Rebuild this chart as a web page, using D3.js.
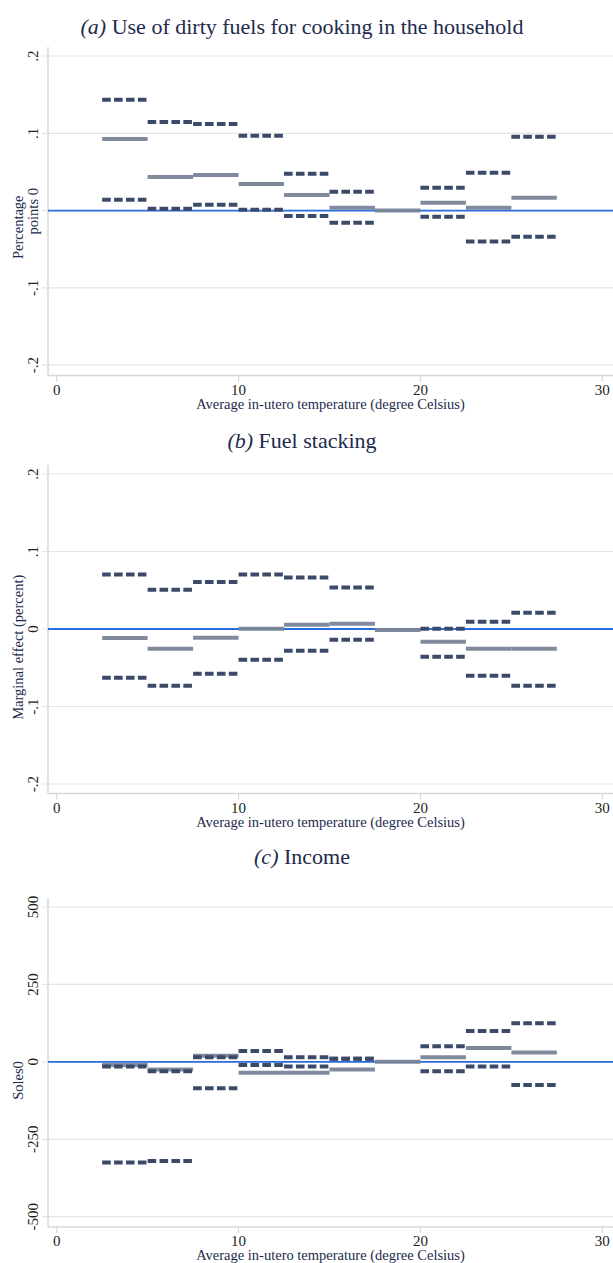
<!DOCTYPE html>
<html><head><meta charset="utf-8">
<script src="https://cdn.jsdelivr.net/npm/d3@7"></script>
<style>body{margin:0;background:#fff} svg{display:block}</style>
</head><body><svg id="c" width="613" height="1263"></svg>
<script>
// ---- data ----
const binStarts = [2.5, 5, 7.5, 10, 12.5, 15, 17.5, 20, 22.5, 25];
const binWidth = 2.5;
const xTicks = [0, 10, 20, 30];

const dirtyEst = [0.0925, 0.0434, 0.046, 0.0344, 0.0202, 0.0038, 0, 0.0102, 0.0038, 0.0167];
const dirtyHi  = [0.1435, 0.1145, 0.112, 0.0968, 0.0477, 0.0244, null, 0.0296, 0.049, 0.0955];
const dirtyLo  = [0.014, 0.0025, 0.0077, 0.0012, -0.007, -0.0156, null, -0.0079, -0.040, -0.0337];

const stackEst = [-0.0116, -0.0254, -0.0112, 0.0004, 0.0056, 0.0069, -0.0013, -0.0164, -0.0254, -0.0254];
const stackHi  = [0.0702, 0.0508, 0.0607, 0.0702, 0.0663, 0.0534, null, 0.0004, 0.0095, 0.0211];
const stackLo  = [-0.0629, -0.0732, -0.0577, -0.0396, -0.028, -0.0138, null, -0.0357, -0.0603, -0.0732];

const incomeEst = [-10, -25, 20, -35, -35, -25, 0, 15, 45, 30];
const incomeHi  = [-15, -30, 15, 35, 15, 10, null, 50, 100, 125];
const incomeLo  = [-325, -320, -85, -10, -15, 10, null, -30, -15, -75];

const ticksAB = [0.2, 0.1, 0, -0.1, -0.2];
const tickLabelsAB = [".2", ".1", "0", "-.1", "-.2"];
const ticksC = [500, 250, 0, -250, -500];
const tickLabelsC = ["500", "250", "0", "-250", "-500"];

// ---- layout ----
const svg = d3.select("#c");
const FONT = "'Liberation Serif', 'DejaVu Serif', serif";
const NAVY = "#1d2a4d";
const xLeft = 48, xRight = 613;
const x = d3.scaleLinear().domain([0, 30]).range([56.7, 602.3]);

const panels = [
  {title: "Use of dirty fuels for cooking in the household", tag: "(a)", titleY: 34,
   top: 47, axisY: 375.5, range: [365.2, 56], domain: [-0.2, 0.2],
   ticks: ticksAB, labels: tickLabelsAB, est: dirtyEst, hi: dirtyHi, lo: dirtyLo,
   ytitle: ["Percentage", "points 0"], hideZeroLabel: true},
  {title: "Fuel stacking", tag: "(b)", titleY: 448,
   top: 465, axisY: 793.5, range: [784, 474], domain: [-0.2, 0.2],
   ticks: ticksAB, labels: tickLabelsAB, est: stackEst, hi: stackHi, lo: stackLo,
   ytitle: ["Marginal effect (percent)"]},
  {title: "Income", tag: "(c)", titleY: 864,
   top: 898, axisY: 1227, range: [1216.7, 907], domain: [-500, 500],
   ticks: ticksC, labels: tickLabelsC, est: incomeEst, hi: incomeHi, lo: incomeLo,
   ytitle: ["Soles0"]}
];

panels.forEach(p => {
  const y = d3.scaleLinear().domain(p.domain).range(p.range);
  const g = svg.append("g");

  // title
  const t = g.append("text").attr("x", 302).attr("y", p.titleY)
    .attr("text-anchor", "middle").attr("font-family", FONT)
    .attr("font-size", 22).attr("fill", NAVY);
  t.append("tspan").attr("font-style", "italic").text(p.tag);
  t.append("tspan").text(" " + p.title);

  // gridlines
  g.selectAll(".grid").data(p.ticks).join("line")
    .attr("x1", 42).attr("x2", xRight)
    .attr("y1", d => y(d)).attr("y2", d => y(d))
    .attr("stroke", "#e4e4e4").attr("stroke-width", 1.2);

  // axes lines
  g.append("line").attr("x1", xLeft).attr("x2", xLeft).attr("y1", p.top).attr("y2", p.axisY)
    .attr("stroke", "#d8d8d8").attr("stroke-width", 1.5);
  g.append("line").attr("x1", xLeft).attr("x2", xRight).attr("y1", p.axisY).attr("y2", p.axisY)
    .attr("stroke", "#d8d8d8").attr("stroke-width", 1.5);

  // x ticks
  g.selectAll(".xt").data(xTicks).join("line")
    .attr("x1", d => x(d)).attr("x2", d => x(d))
    .attr("y1", p.axisY).attr("y2", p.axisY + 6)
    .attr("stroke", "#d8d8d8").attr("stroke-width", 1.2);
  g.selectAll(".xl").data(xTicks).join("text")
    .attr("x", d => x(d)).attr("y", p.axisY + 19)
    .attr("text-anchor", "middle").attr("font-family", FONT).attr("font-size", 15)
    .attr("fill", "#222").text(d => d);
  g.append("text").attr("x", (xLeft + xRight) / 2).attr("y", p.axisY + 33)
    .attr("text-anchor", "middle").attr("font-family", FONT).attr("font-size", 14.5)
    .attr("fill", NAVY).text("Average in-utero temperature (degree Celsius)");

  // y tick labels (rotated)
  g.selectAll(".yl").data(p.ticks.map((v, i) => ({v, l: p.labels[i]}))
      .filter(d => !(p.hideZeroLabel && d.v === 0))).join("text")
    .attr("transform", d => `translate(38,${y(d.v)}) rotate(-90)`)
    .attr("text-anchor", "middle").attr("font-family", FONT).attr("font-size", 15)
    .attr("fill", "#222").text(d => d.l);

  // y title
  const yMid = (p.top + p.axisY) / 2;
  if (p.ytitle.length === 2) {
    g.append("text").attr("transform", `translate(23,${yMid + 16}) rotate(-90)`)
      .attr("text-anchor", "middle").attr("font-family", FONT).attr("font-size", 14.5)
      .attr("fill", NAVY).text(p.ytitle[0]);
    g.append("text").attr("transform", `translate(38,${yMid}) rotate(-90)`)
      .attr("text-anchor", "middle").attr("font-family", FONT).attr("font-size", 14.5)
      .attr("fill", NAVY).text(p.ytitle[1]);
  } else {
    g.append("text").attr("transform", `translate(23,${yMid + 18}) rotate(-90)`)
      .attr("text-anchor", "middle").attr("font-family", FONT).attr("font-size", 14.5)
      .attr("fill", NAVY).text(p.ytitle[0]);
  }

  // zero line
  g.append("line").attr("x1", xLeft).attr("x2", xRight).attr("y1", y(0)).attr("y2", y(0))
    .attr("stroke", "#2a6de0").attr("stroke-width", 1.8);

  const bins = binStarts.map((b, i) => ({b, est: p.est[i], hi: p.hi[i], lo: p.lo[i]}));
  // point estimates
  g.selectAll(".est").data(bins).join("line")
    .attr("x1", d => x(d.b)).attr("x2", d => x(d.b + binWidth))
    .attr("y1", d => y(d.est)).attr("y2", d => y(d.est))
    .attr("stroke", "#7a8498").attr("stroke-width", 4).attr("opacity", 0.95);
  // CI bounds
  ["hi", "lo"].forEach(k => {
    g.selectAll(".ci" + k).data(bins.filter(d => d[k] !== null)).join("line")
      .attr("x1", d => x(d.b)).attr("x2", d => x(d.b + binWidth))
      .attr("y1", d => y(d[k])).attr("y2", d => y(d[k]))
      .attr("stroke", "#3c4a69").attr("stroke-width", 4)
      .attr("stroke-dasharray", "8.6,3.3");
  });
});
</script></body></html>
